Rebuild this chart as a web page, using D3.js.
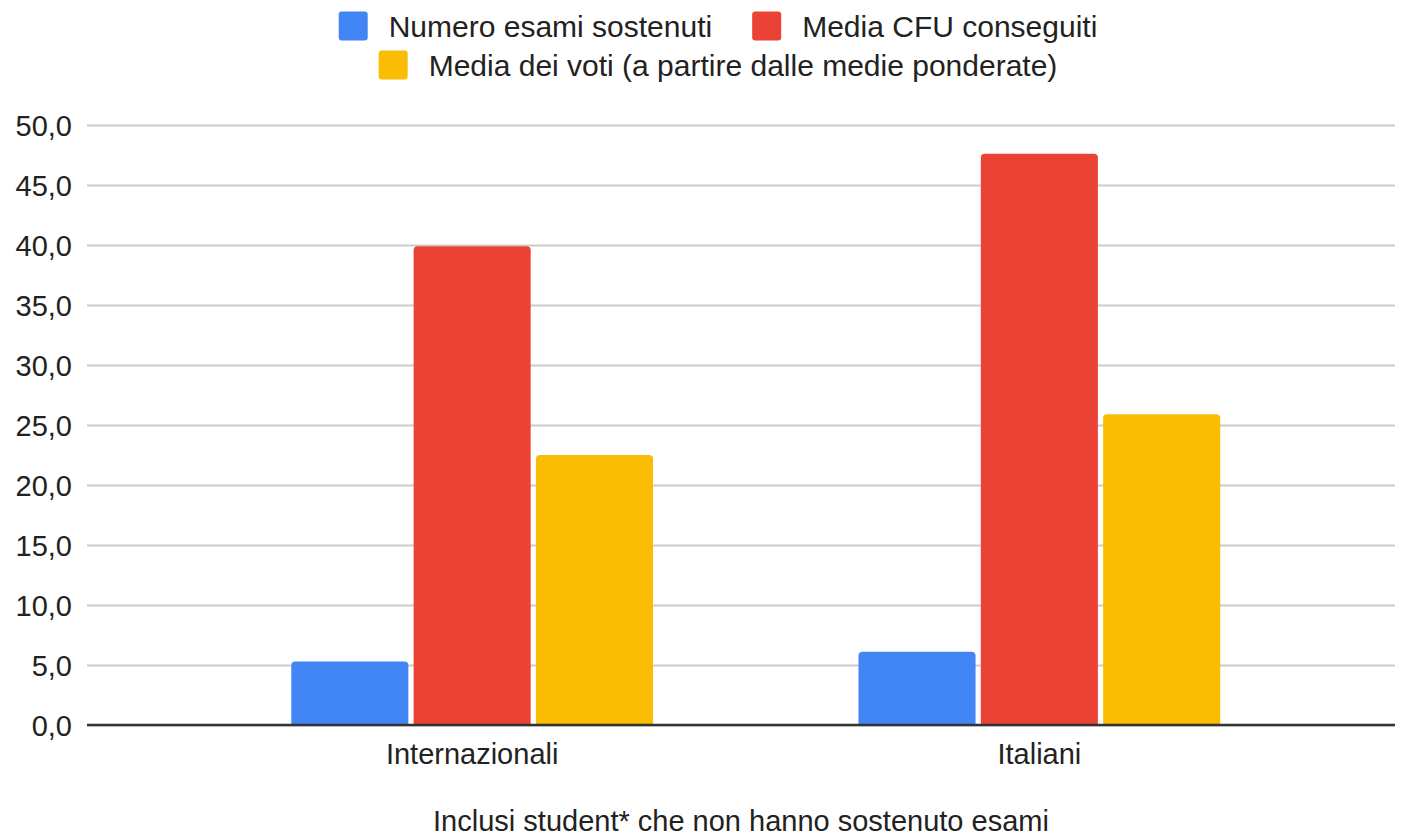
<!DOCTYPE html>
<html>
<head>
<meta charset="utf-8">
<script src="https://cdn.jsdelivr.net/npm/d3@7"></script>
<style>
  body { margin: 0; background: #fff; }
  svg { display: block; font-family: "Liberation Sans", Arial, Helvetica, sans-serif; }
</style>
</head>
<body>
<script>
// grouped bar chart
var categories = ["Internazionali", "Italiani"];
var series = ["Numero esami sostenuti", "Media CFU conseguiti", "Media dei voti (a partire dalle medie ponderate)"];
var esami = [5.3, 6.1];
var cfu = [39.9, 47.6];
var voti = [22.5, 25.9];
var yTicks = [0, 5, 10, 15, 20, 25, 30, 35, 40, 45, 50];
var xTitle = "Inclusi student* che non hanno sostenuto esami";

var colors = ["#4285F4", "#EA4335", "#FBBC04"];
var values = [esami, cfu, voti];

var W = 1407, H = 840;
var plot = {left: 87, right: 1395, top: 125, bottom: 725};

var svg = d3.select("body").append("svg")
  .attr("width", W)
  .attr("height", H);

var itLocale = d3.formatLocale({decimal: ",", thousands: ".", grouping: [3], currency: ["", "€"]});
var fmt = itLocale.format(".1f");

//scales
var y = d3.scaleLinear()
  .domain([0, 50])
  .range([plot.bottom, plot.top]);

// groups sit a bit right of the gridline span's centre
var x0 = d3.scaleBand()
  .domain(categories)
  .range([plot.left, plot.right])
  .paddingInner(0)
  .paddingOuter(0.153)
  .align(0.585);

var x1 = d3.scaleBand()
  .domain(d3.range(series.length))
  .range([0, x0.bandwidth()])
  .paddingInner(0.043)
  .paddingOuter(0.84);

// gridlines + y labels
var yAxis = d3.axisLeft(y)
  .tickValues(yTicks)
  .tickFormat(fmt)
  .tickSize(-(plot.right - plot.left))
  .tickPadding(15);

var gy = svg.append("g")
  .attr("transform", "translate(" + plot.left + ",0)")
  .call(yAxis);
gy.select(".domain").remove();
gy.selectAll(".tick line")
  .attr("stroke", "#cccccc")
  .attr("stroke-width", 2)
  .attr("x1", 0);
gy.selectAll(".tick text")
  .attr("fill", "#222")
  .style("font-size", "29px")
  .attr("dy", "0.35em");

// bars with rounded tops
function barPath(x, yTop, w, yBase, r) {
  r = Math.min(r, (yBase - yTop) / 2);
  return "M" + x + "," + yBase +
    "V" + (yTop + r) +
    "Q" + x + "," + yTop + " " + (x + r) + "," + yTop +
    "H" + (x + w - r) +
    "Q" + (x + w) + "," + yTop + " " + (x + w) + "," + (yTop + r) +
    "V" + yBase + "Z";
}

var bars = [];
categories.forEach(function(c, i) {
  values.forEach(function(arr, s) {
    bars.push({cat: c, s: s, v: arr[i]});
  });
});

svg.append("g").selectAll("path")
  .data(bars)
  .enter().append("path")
  .attr("d", function(d) {
    return barPath(x0(d.cat) + x1(d.s), y(d.v), x1.bandwidth(), y(0), 4);
  })
  .attr("fill", function(d) { return colors[d.s]; });

// baseline
svg.append("line")
  .attr("x1", plot.left).attr("x2", plot.right)
  .attr("y1", y(0)).attr("y2", y(0))
  .attr("stroke", "#333")
  .attr("stroke-width", 2.5);

// x labels
var xAxis = d3.axisBottom(x0).tickSize(0).tickPadding(18);
var gx = svg.append("g")
  .attr("transform", "translate(0," + y(0) + ")")
  .call(xAxis);
gx.select(".domain").remove();
gx.selectAll(".tick text")
  .attr("fill", "#222")
  .style("font-size", "29px");

// x title
svg.append("text")
  .attr("x", 741)
  .attr("y", 831)
  .attr("text-anchor", "middle")
  .attr("fill", "#222")
  .style("font-size", "29px")
  .text(xTitle);

// legend - two rows, centered
var legendRows = [[0, 1], [2]];
var legendCx = 718, rowY = [26, 65], sq = 29;
legendRows.forEach(function(row, ri) {
  var g = svg.append("g");
  var cx = 0;
  row.forEach(function(s, k) {
    if (k > 0) cx += 40;
    g.append("rect")
      .attr("x", cx).attr("y", rowY[ri] - sq / 2)
      .attr("width", sq).attr("height", sq)
      .attr("rx", 3)
      .attr("fill", colors[s]);
    var t = g.append("text")
      .attr("x", cx + sq + 21)
      .attr("y", rowY[ri])
      .attr("dy", "0.35em")
      .attr("fill", "#222")
      .style("font-size", "30px")
      .text(series[s]);
    cx += sq + 21 + t.node().getComputedTextLength();
  });
  g.attr("transform", "translate(" + (legendCx - cx / 2) + ",0)");
});
</script>
</body>
</html>
